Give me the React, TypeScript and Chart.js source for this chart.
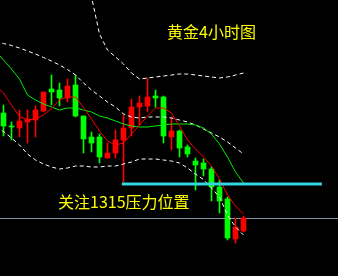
import { useEffect, useRef } from "react";
import { Chart, registerables } from "chart.js";

Chart.register(...registerables);

// 4-hour gold candles (USD/oz), oldest first
const opens = [
  1332.75, 1329.5, 1329, 1330.5, 1331, 1333.25, 1338.75, 1338.5, 1336.5, 1339.75,
  1332, 1326.75, 1326.75, 1321.5, 1322.75, 1326, 1329, 1334.25, 1334.5, 1337,
  1336.75, 1326.75, 1328.25, 1324.25, 1320.75, 1320.25, 1318.75, 1314.25, 1311.25, 1301.25,
  1303.25,
];
const highs = [
  1334.75, 1330.5, 1333.5, 1333.5, 1334.5, 1338, 1342.25, 1340.25, 1341.25, 1342.25,
  1332, 1328, 1327.5, 1325.25, 1328.5, 1332.25, 1336.25, 1337, 1341.5, 1338.5,
  1337, 1331.75, 1328.5, 1324.75, 1321.5, 1321.25, 1319.25, 1316, 1311.75, 1306.5,
  1307,
];
const lows = [
  1327, 1326, 1326.75, 1325.25, 1326.75, 1333, 1334.75, 1334.5, 1335.5, 1331.75,
  1322.75, 1323, 1320.25, 1321.5, 1321.5, 1315.5, 1327, 1329.75, 1333, 1334.25,
  1325.25, 1323.5, 1321.75, 1321.75, 1313.5, 1317, 1310.75, 1307.75, 1301, 1300.25,
  1303,
];
const closes = [
  1329.5, 1329.25, 1330.75, 1331.25, 1333.5, 1338, 1338, 1336.5, 1339.5, 1332,
  1326.25, 1325.25, 1321.75, 1322.75, 1326, 1329, 1334.25, 1335.25, 1336.75, 1336.5,
  1327, 1328.25, 1324, 1322.5, 1319.75, 1318.75, 1314.25, 1310.75, 1301.5, 1304.25,
  1306.5,
];

// Indicator lines: the first value belongs to the bar just before the first candle
const fastMa = [
  1339.625, 1337.75, 1334.75, 1331.875, 1331, 1331.25, 1332.25, 1333.875, 1336, 1336.75,
  1336.75, 1334.125, 1331.25, 1328.25, 1325.75, 1324.75, 1325.25, 1327.5, 1329.75, 1332,
  1334, 1334, 1332.75, 1329.5, 1326, 1323.75, 1321.75, 1319.5, 1316.25, 1312.25,
  1309.5, 1307.5,
];
const midBand = [
  1348.25, 1346, 1343.75, 1341.25, 1337.25, 1336, 1335, 1334.25, 1333.5, 1334,
  1334, 1333.5, 1333, 1332, 1331.5, 1330.75, 1330, 1329.5, 1329.25, 1329.25,
  1329.5, 1329.75, 1330, 1330, 1330, 1329.75, 1329, 1327.5, 1325, 1321.75,
  1318, 1315.25,
];
const envelopeTop = [
  1350.625, 1350.125, 1349.625, 1349, 1348.25, 1347.5, 1346.625, 1345.75, 1344.75, 1343.625,
  1342.25, 1340.25, 1338.5, 1337, 1335.5, 1334.25, 1332.5, 1331.75, 1331.5, 1331.75,
  1331.75, 1331.75, 1331.5, 1331, 1330.5, 1329.75, 1328.75, 1327.75, 1326.75, 1325.5,
  1324, 1322.5,
];
const upperBand = [
  null, null, null, null, null, null, null, null, null, null,
  null, 1371, 1361.75, 1352.5, 1348.5, 1346.75, 1345, 1342.75, 1341.25, 1341.5,
  1341.75, 1342, 1342.25, 1342.5, 1342.5, 1342.25, 1342, 1341.75, 1341.5, 1341.75,
  1342.25, 1342.75,
];
const lowerBand = [
  1329, 1328.125, 1326.5, 1324.75, 1322.5, 1321, 1320, 1319.25, 1318.75, 1319,
  1319.5, 1319.5, 1319.25, 1319.25, 1319.5, 1319.5, 1320, 1320.5, 1321.25, 1321.25,
  1321.25, 1321, 1320.75, 1320.25, 1319, 1317.5, 1316.125, 1314, 1311.75, 1307.25,
  1304.25, 1302.25,
];

// Horizontal levels
const resistance = 1315;
const resistanceStart = 14.8;
const resistanceEnd = 39.8;
const lowerLevel = 1306.375;

const title = "黄金4小时图";
const note = `关注${resistance}压力位置`;

const W = 338;
const H = 276;
const UP = "#ff0000";
const DOWN = "#00ff00";

export default function App() {
  const canvasRef = useRef<HTMLCanvasElement | null>(null);

  useEffect(() => {
    document.body.style.margin = "0";
    document.body.style.background = "#000";
    const canvas = canvasRef.current;
    if (!canvas) return;

    const bars = opens.map((_, i) => i);
    const candleColors = bars.map((i) => (closes[i] >= opens[i] ? UP : DOWN));
    const asLine = (values: (number | null)[]) =>
      values.map((v, k) => ({ x: k - 1, y: v }));

    const lineStyle = {
      type: "line" as const,
      pointRadius: 0,
      borderWidth: 1,
      tension: 0,
      fill: false,
    };

    const chart = new Chart(canvas, {
      type: "bar",
      data: {
        datasets: [
          {
            ...lineStyle,
            data: [
              { x: -1, y: lowerLevel },
              { x: 43, y: lowerLevel },
            ],
            borderColor: "#8294a8",
            order: 20,
          },
          {
            type: "bar",
            data: bars.map((i) => ({ x: i, y: [lows[i], highs[i]] })),
            backgroundColor: candleColors,
            borderWidth: 0,
            barThickness: 1,
            grouped: false,
            order: 12,
          },
          {
            type: "bar",
            data: bars.map((i) => ({ x: i, y: [opens[i], closes[i]] })),
            backgroundColor: candleColors,
            borderWidth: 0,
            barThickness: 5,
            grouped: false,
            order: 11,
          },
          { ...lineStyle, data: asLine(envelopeTop), borderColor: "#ffffff", borderDash: [4, 3], order: 6 },
          { ...lineStyle, data: asLine(upperBand), borderColor: "#ffffff", borderDash: [4, 3], order: 6 },
          { ...lineStyle, data: asLine(lowerBand), borderColor: "#ffffff", borderDash: [4, 3], order: 6 },
          { ...lineStyle, data: asLine(midBand), borderColor: "#00ee00", order: 5 },
          { ...lineStyle, data: asLine(fastMa), borderColor: "#ff0000", order: 4 },
          {
            ...lineStyle,
            data: [
              { x: resistanceStart, y: resistance },
              { x: resistanceEnd, y: resistance },
            ],
            borderColor: "#33d6e0",
            borderWidth: 3,
            order: 1,
          },
        ],
      } as any,
      options: {
        responsive: false,
        animation: false,
        events: [],
        layout: { padding: 0 },
        plugins: {
          legend: { display: false },
          tooltip: { enabled: false },
          title: { display: false },
        },
        scales: {
          x: { type: "linear", display: false, min: -0.4375, max: 41.8125, offset: false },
          y: { type: "linear", display: false, min: 1292, max: 1361 },
        },
      } as any,
    });

    return () => chart.destroy();
  }, []);

  const textStyle = {
    position: "absolute" as const,
    color: "#ffff00",
    fontFamily: '"Noto Sans CJK SC", "Noto Sans", sans-serif',
    fontSize: 16,
    lineHeight: "16px",
    whiteSpace: "nowrap" as const,
  };

  return (
    <div
      style={{
        position: "fixed",
        left: 0,
        top: 0,
        width: W,
        height: H,
        background: "#000",
        overflow: "hidden",
      }}
    >
      <canvas ref={canvasRef} width={W} height={H} style={{ display: "block" }} />
      <div style={{ ...textStyle, left: 167, top: 23 }}>{title}</div>
      <div style={{ ...textStyle, left: 58, top: 193 }}>{note}</div>
    </div>
  );
}
